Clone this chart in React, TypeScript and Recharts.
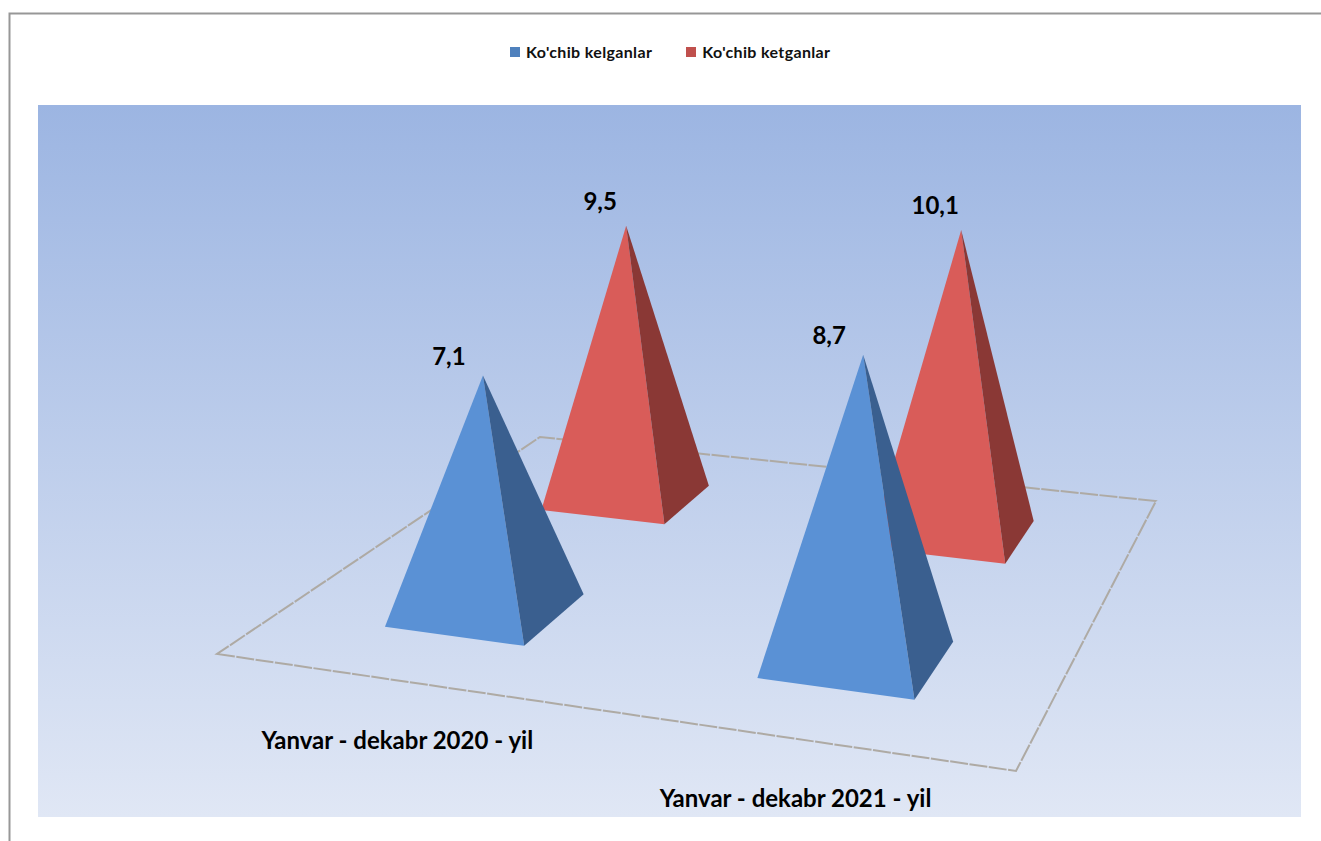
import { BarChart, Bar, XAxis, YAxis, CartesianGrid, Legend, LabelList } from "recharts";

const categories = ["Yanvar - dekabr 2020 - yil", "Yanvar - dekabr 2021 - yil"];
const incoming = [7.1, 8.7];
const outgoing = [9.5, 10.1];
const incomingName = "Ko'chib kelganlar";
const outgoingName = "Ko'chib ketganlar";

const data = categories.map((name, i) => ({ name, incoming: incoming[i], outgoing: outgoing[i] }));

const WIDTH = 1321;
const HEIGHT = 841;
const MARGIN = { top: 105, right: 20, bottom: 23, left: 38 };
const FONT = "Lato, sans-serif";

// floor corners on screen: front-left, front-right, back-right, back-left
const FLOOR = [[217, 654], [1016, 771], [1156, 501], [540, 437]];
const HALF_BASE = 0.097;
const FRONT_ROW = 0.25;
const BACK_ROW = 0.75;

// unit square -> floor quad
function makeProjection() {
  const [[x0, y0], [x1, y1], [x2, y2], [x3, y3]] = FLOOR;
  const dx1 = x1 - x2, dx2 = x3 - x2, sx = x0 - x1 + x2 - x3;
  const dy1 = y1 - y2, dy2 = y3 - y2, sy = y0 - y1 + y2 - y3;
  const det = dx1 * dy2 - dx2 * dy1;
  const g = (sx * dy2 - dx2 * sy) / det;
  const h = (dx1 * sy - sx * dy1) / det;
  const a = x1 - x0 + g * x1, b = x3 - x0 + h * x3;
  const d = y1 - y0 + g * y1, e = y3 - y0 + h * y3;
  return (u: number, v: number) => {
    const w = g * u + h * v + 1;
    return { x: (a * u + b * v + x0) / w, y: (d * u + e * v + y0) / w, w };
  };
}
const project = makeProjection();

const toU = (cx: number) => (cx - MARGIN.left) / (WIDTH - MARGIN.left - MARGIN.right);

function apexOf(cx: number, barHeight: number, row: number) {
  const c = project(toU(cx), row);
  const h = barHeight / c.w;
  return { x: c.x + (c.x - 640) * h * 0.00009, y: c.y - h };
}

const pts = (list: { x: number; y: number }[]) => list.map((p) => `${p.x},${p.y}`).join(" ");

function pyramid(row: number, front: string, side: string) {
  return (props: any) => {
    const cx = props.x + props.width / 2;
    const u = toU(cx);
    const apex = apexOf(cx, props.height, row);
    const left = project(u - HALF_BASE, row - HALF_BASE);
    const corner = project(u + HALF_BASE, row - HALF_BASE);
    const right = project(u + HALF_BASE, row + HALF_BASE);
    return (
      <g>
        <polygon points={pts([left, corner, apex])} fill={front} />
        <polygon points={pts([corner, right, apex])} fill={side} />
      </g>
    );
  };
}

function valueLabel(row: number, dx: number, dy: number) {
  return (props: any) => {
    const cx = props.x + props.width / 2;
    const apex = apexOf(cx, props.height, row);
    return (
      <text x={apex.x + dx} y={apex.y + dy} textAnchor="middle" fontFamily={FONT} fontWeight={700} fontSize={24} fill="#000">
        {String(props.value).replace(".", ",")}
      </text>
    );
  };
}

function CategoryTick(props: any) {
  const p = project(toU(props.x), 0);
  return (
    <text x={p.x - 1} y={p.y + 68} textAnchor="middle" fontFamily={FONT} fontWeight={700} fontSize={24} fill="#000">
      {props.payload.value}
    </text>
  );
}

function LegendRow({ payload }: any) {
  return (
    <div style={{ display: "flex", fontFamily: FONT, fontWeight: 700, fontSize: 16, letterSpacing: 0.35, color: "#111", lineHeight: "18px" }}>
      {(payload || []).map((item: any) => (
        <div key={item.value} style={{ display: "flex", alignItems: "center", marginRight: 34 }}>
          <span style={{ width: 10, height: 10, background: item.color, marginRight: 6 }} />
          {item.value}
        </div>
      ))}
    </div>
  );
}

const floorPath = FLOOR.map(([x, y]) => `${x},${y}`).join(" ");

export default function App() {
  return (
    <div style={{ position: "absolute", left: 0, top: 0, width: WIDTH, height: HEIGHT, background: "#fff" }}>
      <BarChart width={WIDTH} height={HEIGHT} data={data} margin={MARGIN} barSize={100} barGap={-100}>
        <defs>
          <linearGradient id="plotBg" x1="0" y1="0" x2="0" y2="1">
            <stop offset="0%" stopColor="#9cb5e2" />
            <stop offset="100%" stopColor="#e0e7f5" />
          </linearGradient>
        </defs>
        <CartesianGrid horizontal={false} vertical={false} fill="url(#plotBg)" />
        <polyline points={`9.5,841 9.5,13.5 1321,13.5`} fill="none" stroke="#979797" strokeWidth={2} />
        <polygon points={floorPath} fill="none" stroke="#aeaaa4" strokeWidth={2} strokeDasharray="18 1.5" />
        <XAxis dataKey="name" axisLine={false} tickLine={false} height={1} interval={0} tick={<CategoryTick />} />
        <YAxis hide domain={[0, 20.5]} />
        <Legend
          layout="horizontal"
          verticalAlign="middle"
          wrapperStyle={{ top: 43, left: 510, width: 400 }}
          content={<LegendRow />}
        />
        <Bar dataKey="outgoing" name={outgoingName} fill="#c0504d" isAnimationActive={false} shape={pyramid(BACK_ROW, "#d95c59", "#8a3835")}>
          <LabelList dataKey="outgoing" content={valueLabel(BACK_ROW, -26, -16)} />
        </Bar>
        <Bar dataKey="incoming" name={incomingName} fill="#4f81bd" isAnimationActive={false} shape={pyramid(FRONT_ROW, "#5a91d5", "#3a5f8f")}>
          <LabelList dataKey="incoming" content={valueLabel(FRONT_ROW, -34, -11)} />
        </Bar>
      </BarChart>
    </div>
  );
}
